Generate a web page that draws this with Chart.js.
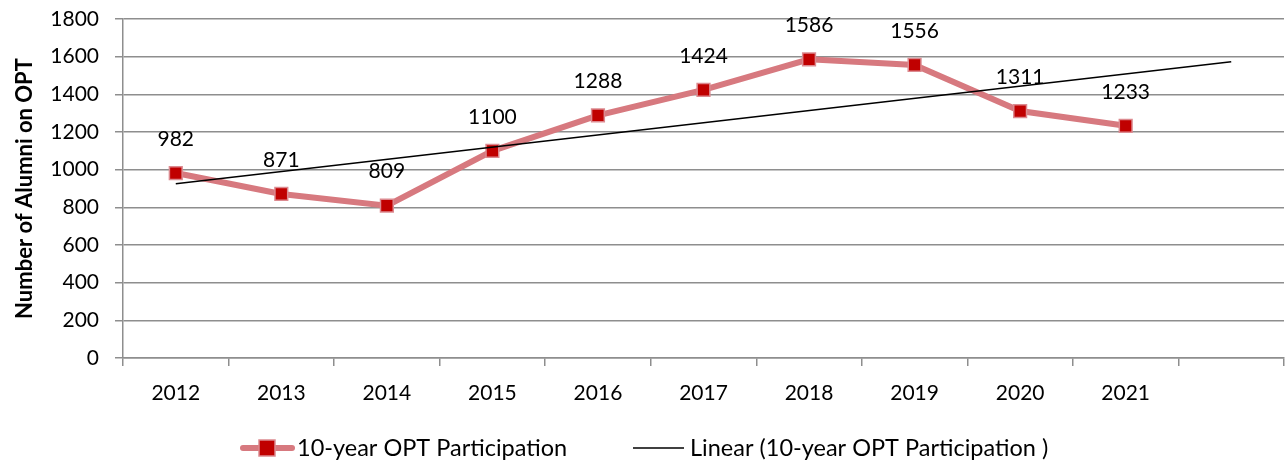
<!DOCTYPE html>
<html>
<head>
<meta charset="utf-8">
<script src="https://cdn.jsdelivr.net/npm/chart.js"></script>
<style>
  html, body { margin: 0; padding: 0; background: #fff; }
  #wrap { width: 1286px; height: 462px; }
</style>
</head>
<body>
<div id="wrap"><canvas id="optChart" width="1286" height="462"></canvas></div>
<script>
    // years on the axis (last slot is left empty for the trend forecast)
    const years = ['2012', '2013', '2014', '2015', '2016', '2017', '2018', '2019', '2020', '2021', ''];
    const participation = [982, 871, 809, 1100, 1288, 1424, 1586, 1556, 1311, 1233];
    // linear trend: start and end values, gap in between
    const trendValues = [925, null, null, null, null, null, null, null, null, null, 1573];
    const yTicks = [0, 200, 400, 600, 800, 1000, 1200, 1400, 1600, 1800];

    const FONT = 'Lato, "Open Sans", sans-serif';
    const gridColor = '#8e8e8e';
    const lineColor = '#d7797f';
    const markerFill = '#c00000';
    const markerEdge = '#dc8a90';

    // value labels above each point
    const valueLabels = {
        id: 'valueLabels',
        afterDatasetsDraw(chart) {
            const ctx = chart.ctx;
            const meta = chart.getDatasetMeta(0);
            ctx.save();
            ctx.font = '21px ' + FONT;
            ctx.fillStyle = '#000';
            ctx.textAlign = 'center';
            ctx.textBaseline = 'middle';
            meta.data.forEach((pt, i) => {
                ctx.fillText(String(participation[i]), pt.x, pt.y - 34);
            });
            ctx.restore();
        }
    };

    // legend drawn under the axis: line+marker swatch, then trend line swatch
    const bottomLegend = {
        id: 'bottomLegend',
        afterDraw(chart) {
            const ctx = chart.ctx;
            const y = 448;
            const names = chart.data.datasets.map(d => d.label);
            ctx.save();
            ctx.font = '23.5px ' + FONT;
            ctx.fillStyle = '#000';
            ctx.textBaseline = 'middle';

            ctx.strokeStyle = lineColor;
            ctx.lineWidth = 6;
            ctx.lineCap = 'round';
            ctx.beginPath(); ctx.moveTo(243, y); ctx.lineTo(292, y); ctx.stroke();
            ctx.fillStyle = markerFill;
            ctx.fillRect(259, y - 8, 16, 16);
            ctx.strokeStyle = markerEdge;
            ctx.lineWidth = 1.5;
            ctx.strokeRect(259, y - 8, 16, 16);
            ctx.fillStyle = '#000';
            ctx.fillText(names[0], 297, y);

            ctx.strokeStyle = '#000';
            ctx.lineWidth = 1.5;
            ctx.lineCap = 'butt';
            ctx.beginPath(); ctx.moveTo(633, y); ctx.lineTo(684, y); ctx.stroke();
            ctx.fillText(names[1], 690, y);
            ctx.restore();
        }
    };

    const ctx = document.getElementById('optChart').getContext('2d');
    const optChart = new Chart(ctx, {
        type: 'line',
        data: {
            labels: years,
            datasets: [{
                label: '10-year OPT Participation',
                data: participation,
                borderColor: lineColor,
                borderWidth: 6,
                backgroundColor: markerFill,
                pointStyle: 'rect',
                pointRadius: 9,
                pointBorderColor: markerEdge,
                pointBorderWidth: 1.5,
                pointBackgroundColor: markerFill,
                tension: 0,
                order: 1
            }, {
                label: 'Linear (10-year OPT Participation )',
                data: trendValues,
                borderColor: '#000',
                borderWidth: 1.5,
                pointRadius: 0,
                spanGaps: true,
                tension: 0,
                order: 0
            }]
        },
        options: {
            responsive: false,
            animation: false,
            layout: { autoPadding: false, padding: { left: 12, right: 2, top: 19, bottom: 52 } },
            plugins: {
                tooltip: { enabled: false },
                legend: { display: false }
            },
            scales: {
                x: {
                    offset: true,
                    grid: {
                        offset: true,
                        drawOnChartArea: false,
                        drawTicks: true,
                        tickLength: 8,
                        color: gridColor,
                        lineWidth: 1.5
                    },
                    border: { color: gridColor, width: 1.5 },
                    ticks: {
                        color: '#000',
                        padding: 15,
                        maxRotation: 0,
                        font: { family: FONT, size: 21 }
                    },
                    afterFit(scale) {
                        scale.height = 52;
                        scale.paddingLeft = 0;
                        scale.paddingRight = 0;
                    }
                },
                y: {
                    min: 0,
                    max: 1800,
                    afterBuildTicks(scale) { scale.ticks = yTicks.map(v => ({ value: v })); },
                    grid: {
                        color: gridColor,
                        lineWidth: 1.5,
                        tickLength: 8
                    },
                    border: { color: gridColor, width: 1.5 },
                    ticks: {
                        color: '#000',
                        padding: 16,
                        font: { family: FONT, size: 21 },
                        callback: v => String(v)
                    },
                    title: {
                        display: true,
                        text: 'Number of Alumni on OPT',
                        color: '#000',
                        padding: { top: 0, bottom: 6 },
                        font: { family: FONT, size: 22, weight: 'bold' }
                    },
                    afterFit(scale) {
                        scale.width = 111;
                        scale.paddingTop = 0;
                        scale.paddingBottom = 0;
                    }
                }
            }
        },
        plugins: [valueLabels, bottomLegend]
    });
</script>
</body>
</html>
